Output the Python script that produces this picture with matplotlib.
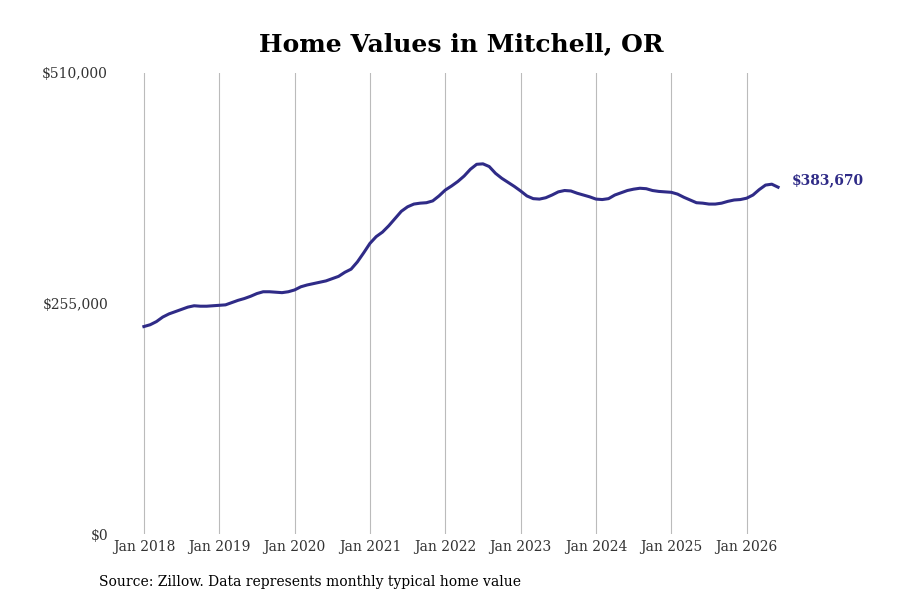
import matplotlib
matplotlib.use("Agg")
import matplotlib.pyplot as plt
from matplotlib.ticker import FuncFormatter

plt.rcParams['font.family'] = ['DejaVu Serif']

# monthly typical home value, Jan 2018 .. Jun 2026 (thousands of $)
values_2018 = [229.5, 231.5, 235, 240, 243.5, 246, 248.5, 251, 252.5, 252, 252, 252.5]
values_2019 = [253, 253.5, 256, 258.5, 260.5, 263, 266, 268, 268, 267.5, 267, 268]
values_2020 = [270, 273.5, 275.5, 277, 278.5, 280, 282.5, 285, 289.5, 293, 301, 311]
values_2021 = [321.5, 329, 334, 341, 349, 357, 362, 365, 366, 366.5, 368.5, 374]
values_2022 = [380.5, 385, 390, 396, 403.5, 409, 409.5, 406.5, 399, 393.5, 389, 384.5]
values_2023 = [379.5, 374, 371, 370.5, 372, 375, 378.5, 380, 379.5, 377, 375, 373]
values_2024 = [370.5, 370, 371, 375, 377.5, 380, 381.5, 382.5, 382, 380, 379, 378.5]
values_2025 = [378, 376, 372.5, 369.5, 366.5, 366, 365, 365, 366, 368, 369.5, 370]
values_2026 = [371.5, 375, 381, 386, 387, 383.67]

values = [v * 1000 for v in (values_2018 + values_2019 + values_2020 + values_2021 +
                             values_2022 + values_2023 + values_2024 + values_2025 + values_2026)]
months = list(range(len(values)))

tick_labels = ["Jan 2018", "Jan 2019", "Jan 2020", "Jan 2021", "Jan 2022",
               "Jan 2023", "Jan 2024", "Jan 2025", "Jan 2026"]
y_ticks = [0, 255000, 510000]
last_label = "$383,670"

line_color = "#2f2b87"

fig = plt.figure(figsize=(9, 6), dpi=100)
ax = fig.add_axes([115 / 900, 66 / 600, 675 / 900, 461 / 600])

ax.plot(months, values, color=line_color, linewidth=2.2)

ax.set_xlim(-4.6, 102.9)
ax.set_ylim(0, 510000)
ax.set_xticks(range(0, 12 * len(tick_labels), 12))
ax.set_xticklabels(tick_labels)
ax.set_yticks(y_ticks)
ax.yaxis.set_major_formatter(FuncFormatter(lambda v, p: "${:,.0f}".format(v)))

ax.grid(axis='x', color='#bbbbbb', linewidth=0.8)
ax.grid(axis='y', visible=False)
for s in ax.spines.values():
    s.set_visible(False)
ax.tick_params(axis='both', length=0, labelsize=10, colors='#333333')
ax.tick_params(axis='x', pad=4)
ax.tick_params(axis='y', pad=5)

ax.annotate(last_label, (months[-1], values[-1]), xytext=(10, 5), textcoords='offset points',
            color=line_color, fontsize=10, fontweight='bold', va='center', ha='left',
            annotation_clip=False)

fig.text(461 / 900, 1 - 44 / 600, "Home Values in Mitchell, OR", ha='center', va='center',
         fontsize=18, fontweight='bold')
fig.text(99 / 900, 1 - 582 / 600, "Source: Zillow. Data represents monthly typical home value",
         ha='left', va='center', fontsize=10)

fig.savefig("out.png", dpi=100)
